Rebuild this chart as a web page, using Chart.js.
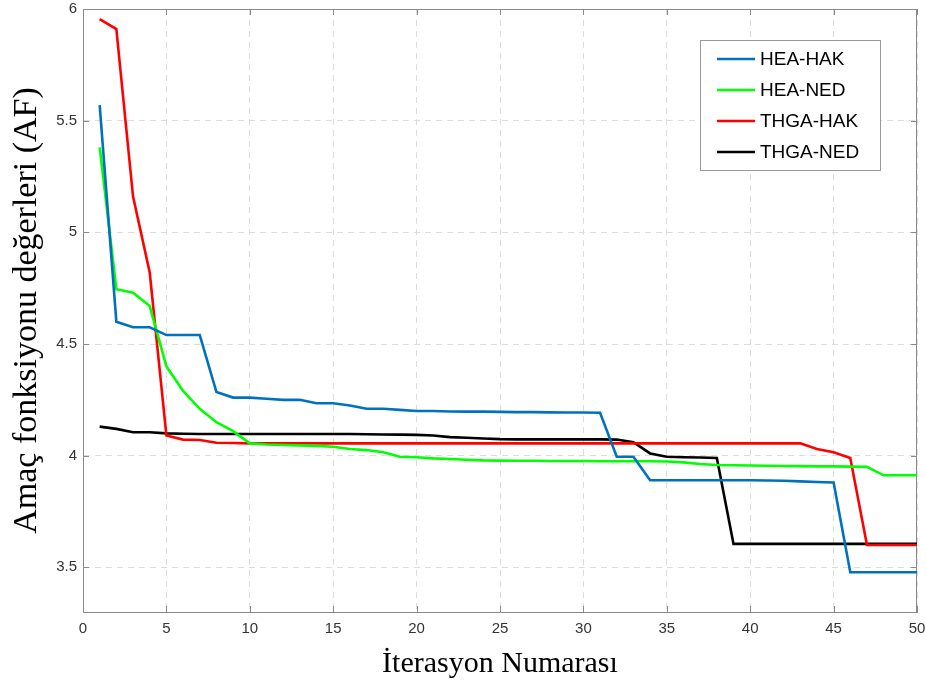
<!DOCTYPE html>
<html>
<head>
<meta charset="utf-8">
<script src="https://cdn.jsdelivr.net/npm/chart.js@4/dist/chart.umd.min.js"></script>
<style>
  html, body { margin: 0; padding: 0; background: #ffffff; }
  #wrap { width: 926px; height: 686px; }
</style>
</head>
<body>
<div id="wrap"><canvas id="c" width="926" height="686"></canvas></div>
<script>
const iterations = [1,2,3,4,5,6,7,8,9,10,11,12,13,14,15,16,17,18,19,20,21,22,23,24,25,26,27,28,29,30,31,32,33,34,35,36,37,38,39,40,41,42,43,44,45,46,47,48,49,50];

const heaHak = [5.57,4.60,4.575,4.575,4.54,4.54,4.54,4.285,4.26,4.26,4.255,4.25,4.25,4.235,4.235,4.225,4.21,4.21,4.205,4.20,4.20,4.198,4.197,4.197,4.196,4.195,4.195,4.194,4.193,4.193,4.192,3.995,3.995,3.89,3.89,3.89,3.89,3.89,3.89,3.89,3.889,3.888,3.885,3.882,3.88,3.478,3.478,3.478,3.478,3.478];

const heaNed = [5.38,4.745,4.73,4.67,4.40,4.29,4.21,4.15,4.11,4.055,4.05,4.048,4.046,4.044,4.04,4.03,4.025,4.015,3.995,3.993,3.988,3.985,3.982,3.979,3.978,3.977,3.977,3.976,3.976,3.976,3.975,3.975,3.975,3.975,3.974,3.97,3.963,3.958,3.957,3.956,3.955,3.954,3.953,3.952,3.952,3.951,3.95,3.912,3.912,3.912];

const thgaHak = [5.955,5.91,5.16,4.82,4.09,4.072,4.07,4.058,4.057,4.055,4.055,4.055,4.055,4.055,4.055,4.055,4.055,4.055,4.055,4.055,4.055,4.055,4.055,4.055,4.055,4.055,4.055,4.055,4.055,4.055,4.055,4.055,4.055,4.055,4.055,4.055,4.055,4.055,4.055,4.055,4.055,4.055,4.055,4.03,4.015,3.99,3.60,3.60,3.60,3.60];

const thgaNed = [4.13,4.12,4.105,4.105,4.10,4.098,4.097,4.097,4.097,4.097,4.097,4.097,4.097,4.097,4.097,4.097,4.096,4.095,4.094,4.093,4.09,4.083,4.08,4.077,4.074,4.073,4.073,4.073,4.073,4.073,4.073,4.072,4.06,4.01,3.995,3.993,3.992,3.99,3.605,3.605,3.605,3.605,3.605,3.605,3.605,3.605,3.605,3.605,3.605,3.605];

const seriesNames = ['HEA-HAK','HEA-NED','THGA-HAK','THGA-NED'];
const seriesColors = ['#0072BD','#00FF00','#FF0000','#000000'];
const xTicks = [0,5,10,15,20,25,30,35,40,45,50];
const yTicks = [3.5,4,4.5,5,5.5,6];
const xTitle = 'İterasyon Numarası';
const yTitle = 'Amaç fonksiyonu değerleri (AF)';

const seriesValues = [heaHak, heaNed, thgaHak, thgaNed];

const datasets = seriesValues.map((vals, k) => ({
  label: seriesNames[k],
  data: iterations.map((it, i) => ({x: it, y: vals[i]})),
  borderColor: seriesColors[k],
  backgroundColor: seriesColors[k],
  borderWidth: 2.6,
  pointRadius: 0,
  tension: 0,
  fill: false
}));

const frameColor = '#8a8a8a';

const framePlugin = {
  id: 'frame',
  beforeDatasetsDraw(chart) {
    const {ctx, chartArea: a, scales} = chart;
    ctx.save();
    ctx.strokeStyle = frameColor;
    ctx.lineWidth = 1;
    ctx.setLineDash([]);
    ctx.beginPath();
    ctx.moveTo(a.left, a.top + 0.5);
    ctx.lineTo(a.right, a.top + 0.5);
    ctx.moveTo(a.right - 0.5, a.top);
    ctx.lineTo(a.right - 0.5, a.bottom);
    const tl = 6;
    scales.x.ticks.forEach(t => {
      const px = Math.round(scales.x.getPixelForValue(t.value)) + 0.5;
      ctx.moveTo(px, a.bottom); ctx.lineTo(px, a.bottom - tl);
      ctx.moveTo(px, a.top); ctx.lineTo(px, a.top + tl);
    });
    scales.y.ticks.forEach(t => {
      const py = Math.round(scales.y.getPixelForValue(t.value)) + 0.5;
      ctx.moveTo(a.left, py); ctx.lineTo(a.left + tl, py);
      ctx.moveTo(a.right, py); ctx.lineTo(a.right - tl, py);
    });
    ctx.stroke();
    ctx.restore();
  }
};

const legendPlugin = {
  id: 'boxLegend',
  afterDraw(chart) {
    const {ctx} = chart;
    const bx = 700, by = 40, bw = 180, bh = 130;
    ctx.save();
    ctx.fillStyle = '#ffffff';
    ctx.fillRect(bx, by, bw, bh);
    ctx.strokeStyle = '#999999';
    ctx.lineWidth = 1;
    ctx.strokeRect(bx + 0.5, by + 0.5, bw, bh);
    ctx.font = '19px "Liberation Sans", Arial, sans-serif';
    ctx.textBaseline = 'middle';
    ctx.textAlign = 'left';
    chart.data.datasets.forEach((ds, i) => {
      const y = by + 19 + i * 31;
      ctx.strokeStyle = ds.borderColor;
      ctx.lineWidth = 2.6;
      ctx.beginPath();
      ctx.moveTo(bx + 17, y);
      ctx.lineTo(bx + 55, y);
      ctx.stroke();
      ctx.fillStyle = '#000000';
      ctx.fillText(ds.label, bx + 60, y + 1);
    });
    ctx.restore();
  }
};

new Chart(document.getElementById('c'), {
  type: 'line',
  data: { datasets },
  options: {
    responsive: false,
    animation: false,
    layout: { padding: { top: 9, right: 9, left: 0, bottom: 0 } },
    plugins: { legend: { display: false }, tooltip: { enabled: false } },
    scales: {
      x: {
        type: 'linear',
        min: 0, max: 50,
        afterBuildTicks: s => { s.ticks = xTicks.map(v => ({value: v})); },
        afterFit: s => { s.height = 74; s.paddingLeft = 0; s.paddingRight = 0; },
        grid: { color: '#dcdcdc', lineWidth: 1, drawTicks: false },
        border: { display: true, color: frameColor, width: 1, dash: [6, 5] },
        ticks: {
          padding: 8,
          color: '#333333',
          font: { family: '"Liberation Sans", Arial, sans-serif', size: 15 },
          maxRotation: 0
        },
        title: {
          display: true,
          text: xTitle,
          color: '#000000',
          font: { family: '"Liberation Serif", "Times New Roman", serif', size: 30, lineHeight: 1 },
          padding: { top: 0, bottom: 7 }
        }
      },
      y: {
        type: 'linear',
        min: 3.3, max: 6,
        afterBuildTicks: s => { s.ticks = yTicks.map(v => ({value: v})); },
        afterFit: s => { s.width = 83; s.paddingTop = 0; s.paddingBottom = 0; },
        grid: { color: '#dcdcdc', lineWidth: 1, drawTicks: false },
        border: { display: true, color: frameColor, width: 1, dash: [6, 5] },
        ticks: {
          padding: 6,
          color: '#333333',
          font: { family: '"Liberation Sans", Arial, sans-serif', size: 15 },
          callback: v => String(v)
        },
        title: {
          display: true,
          text: yTitle,
          color: '#000000',
          font: { family: '"Liberation Serif", "Times New Roman", serif', size: 34, lineHeight: 1 },
          padding: { top: 10, bottom: 0 }
        }
      }
    }
  },
  plugins: [framePlugin, legendPlugin]
});
</script>
</body>
</html>
